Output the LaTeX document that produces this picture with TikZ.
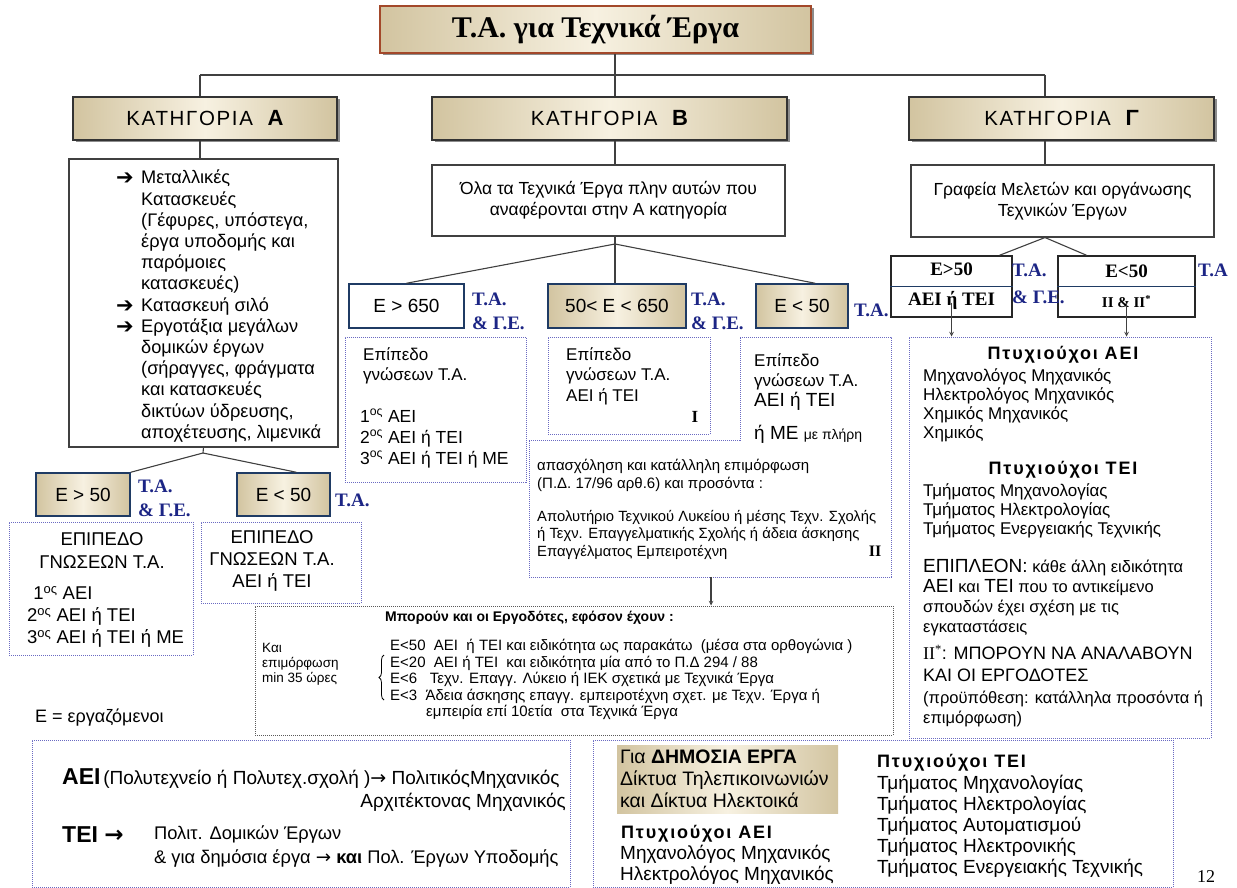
\documentclass[tikz,border=0pt]{standalone}
\usepackage{fontspec}
\setmainfont{Liberation Sans}
\newfontfamily\serifgr{Liberation Serif}
\newfontfamily\symfont{DejaVu Sans}
\newfontfamily\catfont[LetterSpace=8]{Liberation Sans}
\newfontfamily\spacedfont[LetterSpace=10]{Liberation Sans}
\usetikzlibrary{shadows,decorations.pathreplacing}

\definecolor{beigeD}{HTML}{D2C4A0}
\definecolor{beigeL}{HTML}{F7F1E1}
\definecolor{navyT}{HTML}{1C2585}
\definecolor{dotblue}{HTML}{6A6AC2}
\definecolor{boxnavy}{HTML}{1F3B64}
\definecolor{titlered}{HTML}{A3482A}

\newcommand\fs[2]{\fontsize{#1}{#2}\selectfont}
\newcommand\arrowitem{\makebox[25pt][l]{\raisebox{-1pt}{\symfont\bfseries\fontsize{21}{17}\selectfont ➔}}}
\newcommand\itemgap{\hspace*{25pt}}
\newcommand\rarr{{\symfont →}}

\tikzset{
  link/.style={draw=black!75, line width=1.1pt},
  beige/.style={left color=beigeD, right color=beigeD, middle color=beigeL},
  titlebox/.style={draw=titlered, line width=1.8pt, beige, inner sep=0pt,
    drop shadow={shadow xshift=2.5pt, shadow yshift=-2.5pt, fill=black!45, opacity=1},
    font=\serifgr\bfseries\fs{30}{34}},
  catbox/.style={draw=black!80, line width=1.2pt, beige, inner sep=0pt,
    drop shadow={shadow xshift=2.5pt, shadow yshift=-2.5pt, fill=black!45, opacity=1},
    font=\catfont\fs{20.5}{22}},
  plainbox/.style={draw=black!75, line width=1.1pt, fill=white, align=center, inner sep=0pt},
  ebox/.style={draw=boxnavy, line width=1.5pt, inner sep=0pt, font=\fs{19}{22}},
  gebox/.style={draw=black!85, line width=1.5pt, fill=white, inner sep=0pt, align=center,
    font=\serifgr\bfseries\fs{19}{30}},
  gsplit/.style={draw=boxnavy, line width=1.2pt},
  talabel/.style={text=navyT, font=\serifgr\bfseries\fs{19}{24}, align=left, inner sep=0pt},
  dotbox/.style={draw=dotblue, densely dotted, line width=1pt, inner sep=0pt},
  txt/.style={inner sep=0pt, align=left, anchor=north west},
  spaced/.style={inner sep=0pt, font=\spacedfont\bfseries\fs{18}{20}},
}

\begin{document}
\begin{tikzpicture}[x=1pt,y=-1pt]
\path[fill=white] (0,0) rectangle (1237,888);
\useasboundingbox (0,0) rectangle (1237,888);

% top level
\node[titlebox, minimum width=431, minimum height=47] (title) at (595.5,29.5) {Τ.Α. για Τεχνικά Έργα};
\node[catbox, minimum width=264, minimum height=43] (catA) at (205,118.5) {ΚΑΤΗΓΟΡΙΑ \ {\bfseries\fs{22}{22}Α}};
\node[catbox, minimum width=355, minimum height=43] (catB) at (609.5,118.5) {ΚΑΤΗΓΟΡΙΑ \ {\bfseries\fs{22}{22}Β}};
\node[catbox, minimum width=305, minimum height=43] (catG) at (1061.5,118.5) {ΚΑΤΗΓΟΡΙΑ \ {\bfseries\fs{22}{22}Γ}};
\coordinate (jA) at (200,75);
\coordinate (jB) at (615,75);
\coordinate (jG) at (1045,75);
\draw[link] (title.south -| jB) -- (jB);
\draw[link] (jA) -- (jG);
\draw[link] (jA) -- (jA |- catA.north);
\draw[link] (jB) -- (jB |- catB.north);
\draw[link] (jG) -- (jG |- catG.north);

% content boxes
\node[plainbox, minimum width=269, minimum height=288] (acont) at (203.5,303) {};
\node[txt, font=\fs{18.2}{21.2}] (alist) at (116,170) {\arrowitem Μεταλλικές\\
  \itemgap Κατασκευές\\
  \itemgap (Γέφυρες, υπόστεγα,\\
  \itemgap έργα υποδομής και\\
  \itemgap παρόμοιες\\
  \itemgap κατασκευές)\\
  \arrowitem Κατασκευή σιλό\\
  \arrowitem Εργοτάξια μεγάλων\\
  \itemgap δομικών έργων\\
  \itemgap (σήραγγες, φράγματα\\
  \itemgap και κατασκευές\\
  \itemgap δικτύων ύδρευσης,\\
  \itemgap αποχέτευσης, λιμενικά};
\node[plainbox, minimum width=353, minimum height=71, font=\fs{17.5}{21}] (bcont) at (608.5,200.5) {Όλα τα Τεχνικά Έργα πλην αυτών που\\αναφέρονται στην Α κατηγορία};
\node[plainbox, minimum width=303, minimum height=72, font=\fs{17.5}{21}] (gcont) at (1062.5,201) {Γραφεία Μελετών και οργάνωσης\\Τεχνικών Έργων};
\draw[link] (jA |- catA.south) -- (jA |- acont.north);
\draw[link] (jB |- catB.south) -- (jB |- bcont.north);
\draw[link] (jG |- catG.south) -- (jG |- gcont.north);

% category A
\coordinate (aA) at (203,453);
\node[ebox, beige, minimum width=94, minimum height=43] (ea50) at (83,494.5) {Ε > 50};
\node[ebox, beige, minimum width=93, minimum height=43] (ea5) at (283.5,494.5) {Ε < 50};
\draw[link] (acont.south) -- (aA) -- (ea50.north east);
\draw[link] (aA) -- (ea5.60);
\node[talabel, anchor=west] (lA1) at (138,498) {Τ.Α.\\\& Γ.Ε.};
\node[talabel, anchor=west] (lA2) at (335,500) {Τ.Α.};
\node[dotbox, minimum width=184, minimum height=133] (epA1) at (101,588.5) {};
\node[inner sep=0pt, align=center, font=\fs{18.5}{23}] (epA1h) at (102,550.5) {ΕΠΙΠΕΔΟ\\ΓΝΩΣΕΩΝ Τ.Α.};
\node[txt, font=\fs{18.5}{22}] (epA1l) at (27,586) {\,\,1\textsuperscript{ος} ΑΕΙ\\2\textsuperscript{ος} ΑΕΙ ή ΤΕΙ\\3\textsuperscript{ος} ΑΕΙ ή ΤΕΙ ή ΜΕ};
\node[dotbox, minimum width=160, minimum height=81] (epA2) at (281,562.5) {};
\node[inner sep=0pt, align=center, font=\fs{18.5}{22}] (epA2t) at (272,561) {ΕΠΙΠΕΔΟ\\ΓΝΩΣΕΩΝ Τ.Α.\\ΑΕΙ ή ΤΕΙ};
\node[inner sep=0pt, anchor=west, font=\fs{18}{20}] (enote) at (35,718) {Ε = εργαζόμενοι};

% category B
\coordinate (aB) at (615,244);
\node[ebox, fill=white, minimum width=115, minimum height=44] (eb1) at (406.5,306) {Ε > 650};
\node[ebox, beige, minimum width=138, minimum height=44] (eb2) at (617,306) {50< Ε < 650};
\node[ebox, beige, minimum width=92, minimum height=44] (eb3) at (802,306) {Ε < 50};
\draw[link] (bcont.south -| aB) -- (aB);
\draw[link] (aB) -- (eb1.north);
\draw[link] (aB) -- (aB |- eb2.north);
\draw[link] (aB) -- (eb3.60);
\node[talabel, anchor=west] (lB1) at (472,311) {Τ.Α.\\\& Γ.Ε.};
\node[talabel, anchor=west] (lB2) at (691,311) {Τ.Α.\\\& Γ.Ε.};
\node[talabel, anchor=west] (lB3) at (854,310) {Τ.Α.};
\node[dotbox, minimum width=181, minimum height=145] (epB1) at (435.5,409.5) {};
\node[txt, font=\fs{17}{20.5}] (epB1h) at (363,347) {Επίπεδο\\γνώσεων Τ.Α.};
\node[txt, font=\fs{17.5}{21}] (epB1l) at (360,409) {1\textsuperscript{ος} ΑΕΙ\\2\textsuperscript{ος} ΑΕΙ ή ΤΕΙ\\3\textsuperscript{ος} ΑΕΙ ή ΤΕΙ ή ΜΕ};
\node[dotbox, minimum width=162, minimum height=97] (epB2) at (629,385.5) {};
\node[txt, font=\fs{17}{20.5}] (epB2t) at (566,347) {Επίπεδο\\γνώσεων Τ.Α.\\ΑΕΙ ή ΤΕΙ};
\node[inner sep=0pt, font=\serifgr\bfseries\fs{17}{20}] (epB2n) at (695,417) {I};
\draw[draw=dotblue, densely dotted, line width=1pt] (740,337) -- (891,337) -- (891,577) -- (529,577) -- (529,440) -- (740,440) -- cycle;
\node[txt, font=\fs{17}{20}] (epB3t) at (754,353) {Επίπεδο\\γνώσεων Τ.Α.\\{\fs{19}{20}ΑΕΙ ή ΤΕΙ}};
\node[txt, font=\fs{19}{20}] (epB3m) at (754,425) {ή ΜΕ {\fs{14}{16}με πλήρη}};
\node[txt, font=\fs{15}{18}] (epB3a) at (537,459) {απασχόληση και κατάλληλη επιμόρφωση\\(Π.Δ. 17/96 αρθ.6) και προσόντα :};
\node[txt, font=\fs{14.8}{17.5}] (epB3b) at (537,510) {Απολυτήριο Τεχνικού Λυκείου ή μέσης Τεχν. Σχολής\\ή Τεχν. Επαγγελματικής Σχολής ή άδεια άσκησης\\Επαγγέλματος Εμπειροτέχνη};
\node[inner sep=0pt, font=\serifgr\bfseries\fs{16}{20}] (epB3n) at (875,551) {II};
\coordinate (b3out) at (711,577);

% employers
\node[draw=black!65, densely dotted, line width=1pt, inner sep=0pt, minimum width=638, minimum height=129] (emp) at (574,670.5) {};
\draw[link, -stealth] (b3out) -- (b3out |- emp.north);
\node[inner sep=0pt, anchor=west, font=\bfseries\fs{14}{16}] (empt) at (385,618) {Μπορούν και οι Εργοδότες, εφόσον έχουν :};
\node[txt, font=\fs{15}{16.5}] (empl) at (390,639) {Ε<50\ \ ΑΕΙ\ \ ή ΤΕΙ και ειδικότητα ως παρακάτω\ \ (μέσα στα ορθογώνια )\\
  Ε<20\ \ ΑΕΙ ή ΤΕΙ\ \ και ειδικότητα μία από το Π.Δ 294 / 88\\
  Ε<6\ \ \ Τεχν. Επαγγ. Λύκειο ή ΙΕΚ σχετικά με Τεχνικά Έργα\\
  Ε<3\ \ Άδεια άσκησης επαγγ. εμπειροτέχνη σχετ. με Τεχν. Έργα ή\\
  \hspace*{36pt}εμπειρία επί 10ετία\ \ στα Τεχνικά Έργα};
\node[txt, font=\fs{13.5}{15}] (empk) at (262,643) {Και\\επιμόρφωση\\min 35 ώρες};
\coordinate (brT) at (384,655);
\coordinate (brB) at (384,700);
\draw[line width=0.8pt, decorate, decoration={brace, amplitude=5pt}] (brB) -- (brT);

% category G
\node[gebox, minimum width=121, minimum height=61] (ge50) at (951.5,286.5) {Ε>50\\ΑΕΙ ή ΤΕΙ};
\node[gebox, minimum width=137, minimum height=61] (gl50) at (1126.5,286.5) {Ε<50\\{\fs{15}{30}II \& II\textsuperscript{*}}};
\draw[gsplit] (ge50.west) -- (ge50.east);
\draw[gsplit] (gl50.west) -- (gl50.east);
\draw[link] (gcont.south -| jG) -- (ge50.33);
\draw[link] (gcont.south -| jG) -- (gl50.142);
\node[talabel, anchor=west, font=\serifgr\bfseries\fs{19}{27}] (lG1) at (1012,283.5) {Τ.Α.\\\& Γ.Ε.};
\node[talabel, anchor=west] (lG2) at (1198,270) {Τ.Α};
\node[dotbox, minimum width=302, minimum height=401] (gbig) at (1060,537.5) {};
\draw[link, -stealth] ([yshift=-16pt]ge50.center) -- (ge50.center |- gbig.north);
\draw[link, -stealth] ([yshift=-16pt]gl50.center) -- (gl50.center |- gbig.north);
\node[spaced] (gAEI) at (1063,355) {Πτυχιούχοι ΑΕΙ};
\node[txt, font=\fs{17}{19.3}] (gAEIl) at (923,368) {Μηχανολόγος Μηχανικός\\Ηλεκτρολόγος Μηχανικός\\Χημικός Μηχανικός\\Χημικός};
\node[spaced] (gTEI) at (1063,470) {Πτυχιούχοι ΤΕΙ};
\node[txt, font=\fs{17}{19}] (gTEIl) at (923,483) {Τμήματος Μηχανολογίας\\Τμήματος Ηλεκτρολογίας\\Τμήματος Ενεργειακής Τεχνικής};
\node[txt, font=\fs{16.5}{20}] (gext) at (923,559) {{\fs{19}{20}ΕΠΙΠΛΕΟΝ:} κάθε άλλη ειδικότητα\\{\fs{19}{20}ΑΕΙ} και {\fs{19}{20}ΤΕΙ} που το αντικείμενο\\σπουδών έχει σχέση με τις\\εγκαταστάσεις};
\node[txt, font=\fs{18}{22}] (gII) at (923,645) {{\serifgr II\textsuperscript{*}}: ΜΠΟΡΟΥΝ ΝΑ ΑΝΑΛΑΒΟΥΝ\\ΚΑΙ ΟΙ ΕΡΓΟΔΟΤΕΣ};
\node[txt, font=\fs{16.5}{20}] (gcond) at (923,691) {(προϋπόθεση: κατάλληλα προσόντα ή\\επιμόρφωση)};

% bottom boxes
\node[dotbox, minimum width=538, minimum height=147] (botL) at (301,813.5) {};
\node[inner sep=0pt, anchor=base west] (aeiL) at (62,784) {{\bfseries\fs{23}{26}ΑΕΙ} {\fs{19}{20}(Πολυτεχνείο ή Πολυτεχ.σχολή )\rarr{} ΠολιτικόςΜηχανικός}};
\node[inner sep=0pt, anchor=base east, font=\fs{19}{20}] (archL) at (566,807) {Αρχιτέκτονας Μηχανικός};
\node[inner sep=0pt, anchor=base west, font=\bfseries\fs{23}{26}] (teiL) at (62,842) {ΤΕΙ \rarr};
\node[txt, font=\fs{18.3}{24}] (teiLl) at (154,826) {Πολιτ. Δομικών Έργων\\\& για δημόσια έργα \rarr{} \textbf{και} Πολ. Έργων Υποδομής};

\node[dotbox, minimum width=580, minimum height=147] (botR) at (883,813.5) {};
\node[beige, inner sep=0pt, minimum width=221, minimum height=68] (pubw) at (727.5,779) {};
\node[txt, font=\fs{19.5}{22}] (pubwt) at (620,750) {Για \textbf{ΔΗΜΟΣΙΑ ΕΡΓΑ}\\Δίκτυα Τηλεπικοινωνιών\\και Δίκτυα Ηλεκτοικά};
\node[spaced, anchor=north west] (rAEI) at (621,825) {Πτυχιούχοι ΑΕΙ};
\node[txt, font=\fs{19}{21}] (rAEIl) at (620,845) {Μηχανολόγος Μηχανικός\\Ηλεκτρολόγος Μηχανικός};
\node[spaced, anchor=north west] (rTEI) at (877,754) {Πτυχιούχοι ΤΕΙ};
\node[txt, font=\fs{19}{21}] (rTEIl) at (877,775) {Τμήματος Μηχανολογίας\\Τμήματος Ηλεκτρολογίας\\Τμήματος Αυτοματισμού\\Τμήματος Ηλεκτρονικής\\Τμήματος Ενεργειακής Τεχνικής};
\node[inner sep=0pt, font=\serifgr\fs{18}{20}] (pnum) at (1206,877) {12};
\end{tikzpicture}
\end{document}
